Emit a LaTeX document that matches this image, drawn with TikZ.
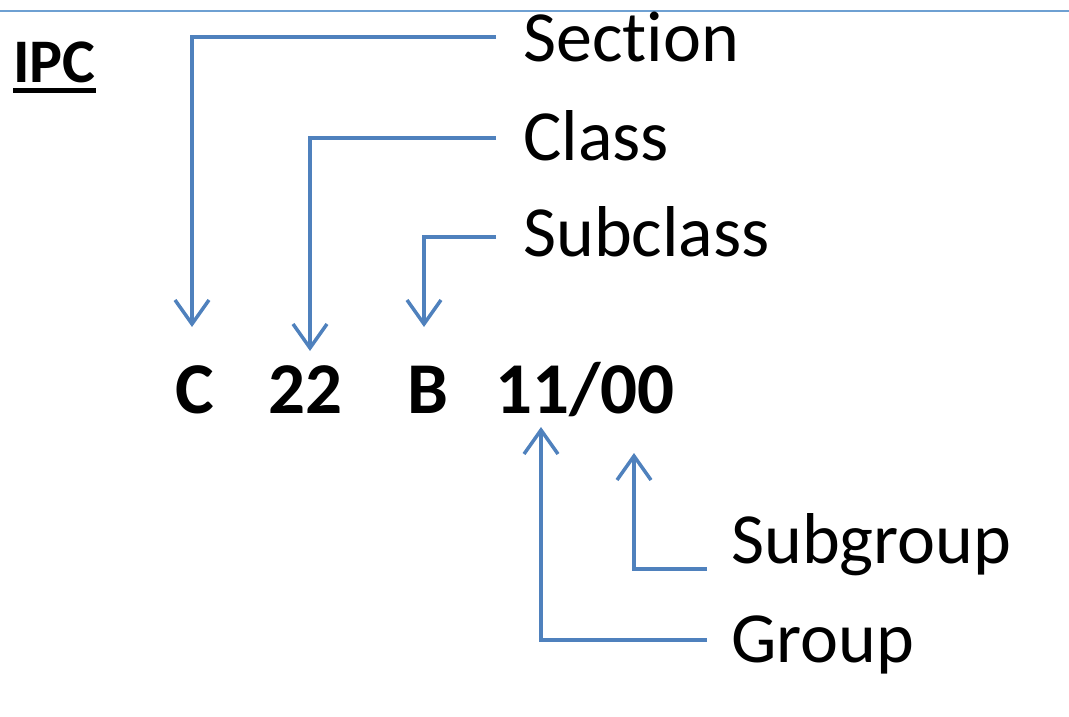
\documentclass[tikz,border=0pt]{standalone}
\usepackage{fontspec}
\setmainfont[Ligatures={NoCommon}]{Carlito}
\usetikzlibrary{arrows.meta}
\definecolor{arrblue}{RGB}{79,129,189}
\definecolor{topblue}{RGB}{110,160,210}
\begin{document}
\begin{tikzpicture}[x=1pt,y=-1pt,
  conn/.style={draw=arrblue, line width=4.5pt, line cap=butt,
    -{Straight Barb[length=24pt,width=34pt,line width=3.5pt]}},
  lab/.style={anchor=base west, inner sep=0pt, font=\fontsize{72}{80}\selectfont},
  code/.style={anchor=base, inner sep=0pt, font=\fontsize{73}{80}\selectfont\bfseries},
  title/.style={anchor=base west, inner sep=0pt, font=\fontsize{62}{70}\selectfont\bfseries}]
\useasboundingbox (0,0) rectangle (1069,717);
% top rule
\draw[topblue, line width=2pt] (0,11) -- (1069,11);
% title
\node[title] (ipc) at (13,82) {IPC};
\draw[line width=5pt] ([yshift=-9pt]ipc.base west) -- ([yshift=-9pt]ipc.base east);
% code parts
\node[code] (c) at (195,413) {C};
\node[code] (cl) at (305,413) {22};
\node[code] (b) at (428,413) {B};
\node[code] (g) at (585,413) {11/00};
% labels
\node[lab] (sec) at (523,62) {Section};
\node[lab] (cla) at (523,160) {Class};
\node[lab] (sub) at (523,256) {Subclass};
\node[lab] (sgr) at (731,563) {Subgroup};
\node[lab] (grp) at (731,662) {Group};
% tips
\coordinate (tc) at (192,327);
\coordinate (tcl) at (310,351);
\coordinate (tb) at (424,327);
\coordinate (tg) at (541,427);
\coordinate (tsg) at (634,453);
% connectors
\draw[conn] ([shift={(-27pt,25pt)}]sec.base west) -| (tc);
\draw[conn] ([shift={(-27pt,22pt)}]cla.base west) -| (tcl);
\draw[conn] ([shift={(-27pt,19pt)}]sub.base west) -| (tb);
\draw[conn] ([shift={(-24pt,-6pt)}]sgr.base west) -| (tsg);
\draw[conn] ([shift={(-24pt,22pt)}]grp.base west) -| (tg);
\end{tikzpicture}
\end{document}
